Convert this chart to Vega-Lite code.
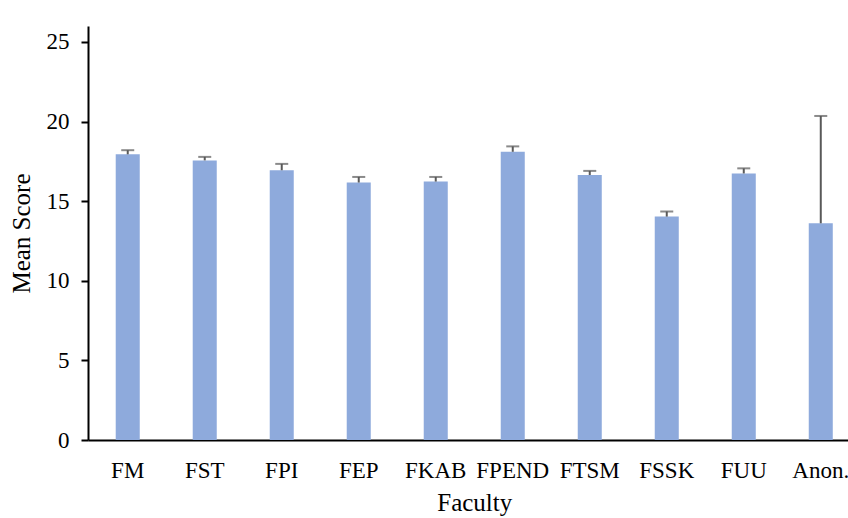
{
  "$schema": "https://vega.github.io/schema/vega-lite/v6.json",
  "autosize": {"type": "none"},
  "padding": {"left": 88, "top": 26, "right": 0, "bottom": 78},
  "width": 760,
  "height": 414,
  "background": "white",
  "config": {
    "font": "Liberation Serif",
    "view": {"stroke": null},
    "axis": {
      "labelFont": "Liberation Serif",
      "titleFont": "Liberation Serif",
      "labelColor": "black",
      "titleColor": "black",
      "domainColor": "black",
      "tickColor": "black",
      "domainWidth": 2,
      "tickWidth": 2,
      "grid": false,
      "labelFontSize": 23,
      "titleFontSize": 25,
      "titleFontWeight": "normal"
    }
  },
  "data": {
    "values": [
      {"faculty": "FM", "mean": 17.94, "upper": 18.2},
      {"faculty": "FST", "mean": 17.56, "upper": 17.78},
      {"faculty": "FPI", "mean": 16.94, "upper": 17.34},
      {"faculty": "FEP", "mean": 16.17, "upper": 16.52},
      {"faculty": "FKAB", "mean": 16.23, "upper": 16.52},
      {"faculty": "FPEND", "mean": 18.1, "upper": 18.44},
      {"faculty": "FTSM", "mean": 16.64, "upper": 16.9},
      {"faculty": "FSSK", "mean": 14.03, "upper": 14.35},
      {"faculty": "FUU", "mean": 16.74, "upper": 17.06},
      {"faculty": "Anon.", "mean": 13.61, "upper": 20.35}
    ]
  },
  "encoding": {
    "x": {
      "field": "faculty",
      "type": "nominal",
      "sort": null,
      "scale": {"range": [0, 772.5], "paddingInner": 0.688, "paddingOuter": 0.36},
      "axis": {"title": "Faculty", "labelAngle": 0, "ticks": false, "labelPadding": 19, "titlePadding": 8, "labelOverlap": false}
    }
  },
  "layer": [
    {
      "mark": {"type": "bar", "color": "#8eaadc"},
      "encoding": {
        "y": {
          "field": "mean",
          "type": "quantitative",
          "scale": {"domain": [0, 25]},
          "axis": {"title": "Mean Score", "values": [0, 5, 10, 15, 20, 25], "tickSize": 7, "labelPadding": 12, "titlePadding": 12}
        }
      }
    },
    {
      "mark": {"type": "rule", "color": "#595959", "strokeWidth": 2},
      "encoding": {
        "y": {"field": "mean", "type": "quantitative"},
        "y2": {"field": "upper"}
      }
    },
    {
      "mark": {"type": "tick", "color": "#595959", "thickness": 2, "size": 13},
      "encoding": {
        "y": {"field": "upper", "type": "quantitative"}
      }
    }
  ]
}
